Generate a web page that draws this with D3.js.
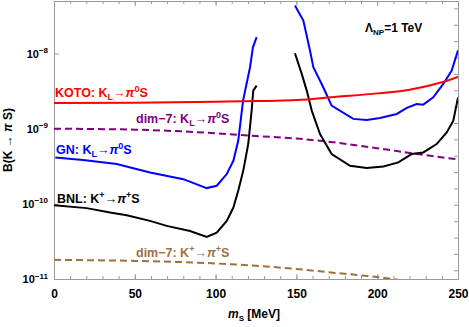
<!DOCTYPE html>
<html>
<head>
<meta charset="utf-8">
<script src="https://cdn.jsdelivr.net/npm/d3@7"></script>
<style>
  body { margin: 0; background: #fff; }
  svg text { font-family: "Liberation Sans", Arial, sans-serif; font-weight: bold; }
  .frame path, .frame line { stroke: #999; }
</style>
</head>
<body>
<div id="chart"></div>
<script>
// ---- data ----
var xTicks = [0, 50, 100, 150, 200, 250];
var yTicks = [1e-11, 1e-10, 1e-9, 1e-8];

var mKOTO = [0, 50, 100, 125, 150, 175, 200, 220, 240, 250];
var brKOTO = [2.2e-9, 2.22e-9, 2.28e-9, 2.33e-9, 2.4e-9, 2.66e-9, 2.95e-9, 3.3e-9, 4.15e-9, 4.9e-9];

var mDimKL = [0, 25, 50, 75, 100, 125, 150, 175, 200, 225, 250];
var brDimKL = [1.0e-9, 0.99e-9, 0.97e-9, 0.93e-9, 0.87e-9, 0.8e-9, 0.74e-9, 0.65e-9, 0.55e-9, 0.46e-9, 0.39e-9];

var mDimKp = [0, 50, 100, 150, 175, 200, 215];
var brDimKp = [1.8e-11, 1.74e-11, 1.61e-11, 1.36e-11, 1.2e-11, 1.06e-11, 0.96e-11];

var mGN1 = [0.8, 18, 38.8, 59.4, 80, 94.5, 100.7, 106.9, 111, 114, 117, 121.3, 123.1, 125.4];
var brGN1 = [4.14e-10, 3.83e-10, 3.38e-10, 2.61e-10, 2.13e-10, 1.62e-10, 1.74e-10, 2.49e-10, 3.74e-10, 6.9e-10, 2.36e-9, 6.57e-9, 1.21e-8, 1.65e-8];
var mGN2 = [149.1, 154.3, 158.4, 160.5, 166.6, 171.8, 185.2, 193.5, 201.7, 212.1, 218.3, 224.4, 228.5, 234.7, 240.9, 246.1, 250];
var brGN2 = [4.37e-8, 2.75e-8, 1.1e-8, 6.57e-9, 3.56e-9, 2.03e-9, 1.35e-9, 1.31e-9, 1.39e-9, 1.57e-9, 1.89e-9, 2.13e-9, 2.09e-9, 2.61e-9, 3.94e-9, 5.93e-9, 1.1e-8];

var mBNL1 = [0, 20.2, 34.7, 45, 59.4, 69.7, 84.2, 94.5, 100.7, 106.9, 111, 114, 117.1, 120.2, 122.3, 123.3, 125.4];
var brBNL1 = [9.6e-11, 8.77e-11, 7.66e-11, 7.07e-11, 5.93e-11, 5.09e-11, 4.36e-11, 3.63e-11, 4.14e-11, 5.93e-11, 8.93e-11, 1.49e-10, 2.75e-10, 6.25e-10, 1.74e-9, 3.21e-9, 3.74e-9];
var mBNL2 = [149.1, 153.3, 156.4, 159.5, 164.6, 171.8, 183.2, 193.5, 203.8, 213.1, 221.3, 228.5, 236.8, 243, 247.1, 250];
var brBNL2 = [1.01e-8, 5.36e-9, 3.21e-9, 1.74e-9, 8.5e-10, 4.6e-10, 3.21e-10, 2.99e-10, 3.14e-10, 3.56e-10, 4.6e-10, 4.83e-10, 6.25e-10, 8.93e-10, 1.28e-9, 2.61e-9];

function zip(xs, ys) { return xs.map(function(x, i) { return [x, ys[i]]; }); }

var margin = {top: 1, right: 11, bottom: 48, left: 54},
    W = 469, H = 327,
    width = W - margin.left - margin.right,
    height = H - margin.top - margin.bottom;

var x = d3.scaleLinear().domain([0, 250]).range([0, width]);
var y = d3.scaleLog().domain([1e-11, 5e-8]).range([height, 0]);
var yRight = d3.scaleLinear().domain([-0.53, 16.45]).range([height, 0]);

var svg = d3.select("#chart").append("svg")
    .attr("width", W).attr("height", H);

svg.append("defs").append("clipPath").attr("id", "clip")
  .append("rect").attr("width", width).attr("height", height);

var g = svg.append("g")
    .attr("transform", "translate(" + margin.left + "," + margin.top + ")");

// frame: bottom (minor + major), top, left, right
g.append("g").attr("class", "frame")
    .attr("transform", "translate(0," + height + ")")
    .call(d3.axisBottom(x).tickValues(d3.range(0, 251, 10)).tickSizeInner(-3).tickSizeOuter(0).tickFormat(""));
var xAx = g.append("g").attr("class", "frame")
    .attr("transform", "translate(0," + height + ")")
    .call(d3.axisBottom(x).tickValues(xTicks).tickSizeInner(-5).tickSizeOuter(0).tickPadding(10));
xAx.selectAll("text").attr("font-size", "12px").attr("fill", "#000");

g.append("g").attr("class", "frame")
    .call(d3.axisTop(x).tickValues(d3.range(0, 251, 10)).tickSizeInner(-3).tickSizeOuter(0).tickFormat(""));
g.append("g").attr("class", "frame")
    .call(d3.axisTop(x).tickValues(xTicks).tickSizeInner(-5).tickSizeOuter(0).tickFormat(""));

g.append("g").attr("class", "frame")
    .attr("transform", "translate(" + width + ",0)")
    .call(d3.axisRight(yRight).tickValues(d3.range(0, 17)).tickSizeInner(-4).tickSizeOuter(0).tickFormat(""));

var yAx = g.append("g").attr("class", "frame")
    .call(d3.axisLeft(y).tickValues(yTicks).tickSizeInner(-5).tickSizeOuter(0).tickPadding(6).tickFormat(""));
yAx.selectAll(".tick").append("text")
    .attr("x", -6).attr("dy", "0.35em")
    .attr("text-anchor", "end").attr("fill", "#000").attr("font-size", "11px")
    .each(function(d) {
      var t = d3.select(this);
      t.append("tspan").text("10");
      t.append("tspan").attr("font-size", "8px").attr("dy", "-0.6em").text("\u2212" + Math.round(-Math.log10(d)));
    });

// curves
var line = d3.line()
    .x(function(d) { return x(d[0]); })
    .y(function(d) { return y(d[1]); });
var smooth = d3.line()
    .x(function(d) { return x(d[0]); })
    .y(function(d) { return y(d[1]); })
    .curve(d3.curveMonotoneX);

var plot = g.append("g").attr("clip-path", "url(#clip)");
function draw(data, gen, color, dash) {
  plot.append("path")
      .attr("d", gen(data))
      .attr("fill", "none")
      .attr("stroke", color)
      .attr("stroke-width", 2)
      .attr("stroke-dasharray", dash || null);
}
draw(zip(mDimKp, brDimKp), smooth, "#a0703f", "7,4");
draw(zip(mDimKL, brDimKL), smooth, "#800080", "7,4");
draw(zip(mBNL1, brBNL1), line, "#000");
draw(zip(mBNL2, brBNL2), line, "#000");
draw(zip(mGN1, brGN1), line, "#0000ff");
draw(zip(mGN2, brGN2), line, "#0000ff");
draw(zip(mKOTO, brKOTO), smooth, "#ff0000");

// labels: parts are [text, kind] where kind: "" normal, "sub", "sup", "it"
function label(px, py, color, parts, size, small) {
  var t = svg.append("text").attr("x", px).attr("y", py)
      .attr("fill", color).attr("font-size", (size || 12.5) + "px");
  var shift = 0;
  parts.forEach(function(p) {
    var s = t.append("tspan").text(p[0]);
    var want = p[1] === "sub" ? 3 : p[1] === "sup" ? -5 : 0;
    if (want !== shift) { s.attr("dy", want - shift); shift = want; }
    if (p[1] === "sub" || p[1] === "sup") s.attr("font-size", (small || 9) + "px");
    if (p[1] === "it") s.attr("font-style", "italic");
  });
  return t;
}
label(55, 97, "#ff0000", [["KOTO: K", ""], ["L", "sub"], ["\u2192", ""], ["\u03c0", "it"], ["0", "sup"], ["S", ""]]);
label(136, 123, "#800080", [["dim\u22127: K", ""], ["L", "sub"], ["\u2192", ""], ["\u03c0", "it"], ["0", "sup"], ["S", ""]]);
label(56, 154, "#0000ff", [["GN: K", ""], ["L", "sub"], ["\u2192", ""], ["\u03c0", "it"], ["0", "sup"], ["S", ""]]);
label(57, 203, "#000", [["BNL: K", ""], ["+", "sup"], ["\u2192", ""], ["\u03c0", "it"], ["+", "sup"], ["S", ""]]);
label(136, 257, "#a0703f", [["dim\u22127: K", ""], ["+", "sup"], ["\u2192", ""], ["\u03c0", "it"], ["+", "sup"], ["S", ""]]);
label(365, 32, "#000", [["\u039b", ""], ["NP", "sub"], ["=1 TeV", ""]], 12, 8);

// axis titles
label(228, 318, "#000", [["m", "it"], ["S", "sub"], [" [MeV]", ""]], 12, 8);
svg.append("text")
    .attr("transform", "translate(12,140) rotate(-90)")
    .attr("text-anchor", "middle").attr("font-size", "12px")
    .call(function(t) {
      t.append("tspan").text("B(K \u2192 ");
      t.append("tspan").attr("font-style", "italic").text("\u03c0");
      t.append("tspan").text(" S)");
    });
</script>
</body>
</html>
